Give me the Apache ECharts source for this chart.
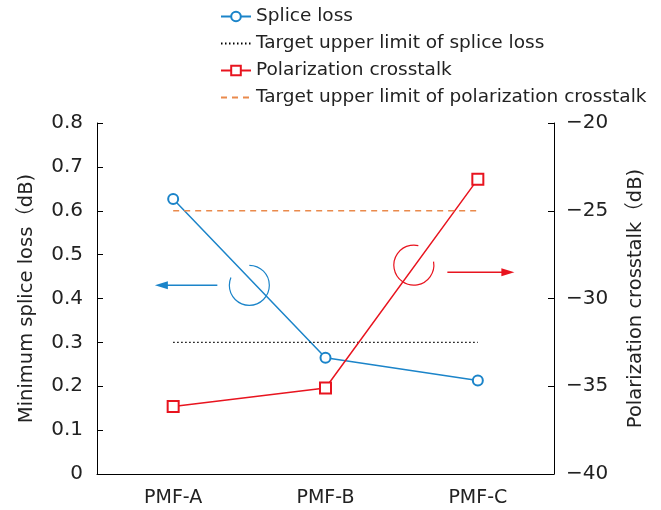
<!DOCTYPE html>
<html>
<head>
<meta charset="utf-8">
<script src="https://cdn.jsdelivr.net/npm/echarts@6/dist/echarts.min.js"></script>
<style>
  html, body { margin: 0; padding: 0; background: #fff; }
  #chart { width: 661px; height: 510px; }
</style>
</head>
<body>
<div id="chart"></div>
<script>
  // data
  var categories = ['PMF-A', 'PMF-B', 'PMF-C'];
  var spliceLoss = [0.627, 0.265, 0.213];
  var spliceTarget = [0.3, 0.3, 0.3];
  var crosstalk = [-36.15, -35.1, -23.2];
  var crosstalkTarget = [-25, -25, -25];

  var FONT = '"DejaVu Sans", "Noto Sans CJK JP", sans-serif';
  var BLUE = '#1b84c9';
  var RED = '#e8141f';
  var ORANGE = '#ea8a4c';
  var TXT = '#222';

  var chart = echarts.init(document.getElementById('chart'));

  var option = {
    animation: false,
    textStyle: { fontFamily: FONT },
    legend: {
      orient: 'vertical',
      left: 220,
      top: 7,
      padding: 0,
      itemWidth: 30,
      itemHeight: 12,
      itemGap: 8,
      textStyle: { fontSize: 18.5, lineHeight: 19, color: TXT, fontFamily: FONT },
      data: [
        'Splice loss',
        { name: 'Target upper limit of splice loss', itemStyle: { opacity: 0 } },
        'Polarization crosstalk',
        { name: 'Target upper limit of polarization crosstalk', itemStyle: { opacity: 0 } }
      ]
    },
    grid: { left: 97, right: 107, top: 123, bottom: 36 },
    xAxis: {
      type: 'category',
      data: categories,
      boundaryGap: true,
      axisLine: { lineStyle: { color: '#000', width: 1 } },
      axisTick: { inside: true, length: 6, lineStyle: { color: '#000' } },
      axisLabel: { fontSize: 19, color: TXT, margin: 15, fontFamily: FONT }
    },
    yAxis: [
      {
        type: 'value', min: 0, max: 0.8, interval: 0.1,
        name: 'Minimum splice loss（dB)',
        nameLocation: 'middle', nameGap: 60,
        nameTextStyle: { fontSize: 19.5, color: TXT, fontFamily: FONT },
        axisLine: { show: true, lineStyle: { color: '#000' } },
        axisTick: { show: true, inside: true, length: 6, lineStyle: { color: '#000' } },
        splitLine: { show: false },
        axisLabel: {
          fontSize: 20, color: TXT, margin: 14, fontFamily: FONT,
          formatter: function (v) { return v === 0 ? '0' : v.toFixed(1); }
        }
      },
      {
        type: 'value', min: -40, max: -20, interval: 5,
        name: 'Polarization crosstalk（dB)',
        nameLocation: 'middle', nameGap: 72, nameRotate: 90,
        nameTextStyle: { fontSize: 19.5, color: TXT, fontFamily: FONT },
        axisLine: { show: true, lineStyle: { color: '#000' } },
        axisTick: { show: true, inside: true, length: 6, lineStyle: { color: '#000' } },
        splitLine: { show: false },
        axisLabel: {
          fontSize: 20, color: TXT, margin: 12, fontFamily: FONT,
          formatter: function (v) { return String(v).replace('-', '−'); }
        }
      }
    ],
    series: [
      {
        name: 'Splice loss', type: 'line', yAxisIndex: 0,
        data: spliceLoss,
        symbol: 'emptyCircle', symbolSize: 10,
        lineStyle: { color: BLUE, width: 1.5 },
        itemStyle: { color: BLUE, borderWidth: 1.5 }
      },
      {
        name: 'Target upper limit of splice loss', type: 'line', yAxisIndex: 0,
        data: spliceTarget,
        symbol: 'none',
        lineStyle: { color: '#000', width: 1.2, type: [1.5, 2.5] },
        itemStyle: { color: '#000' }
      },
      {
        name: 'Polarization crosstalk', type: 'line', yAxisIndex: 1,
        data: crosstalk,
        symbol: 'emptyRect', symbolSize: 11,
        lineStyle: { color: RED, width: 1.5 },
        itemStyle: { color: RED, borderWidth: 1.5 }
      },
      {
        name: 'Target upper limit of polarization crosstalk', type: 'line', yAxisIndex: 1,
        data: crosstalkTarget,
        symbol: 'none',
        lineStyle: { color: ORANGE, width: 1.5, type: [6, 5] },
        itemStyle: { color: ORANGE }
      }
    ]
  };

  chart.setOption(option);

  // annotation arcs + arrows, anchored to the axes (fractional category index)
  var x0 = chart.convertToPixel({ xAxisIndex: 0 }, categories[0]);
  var x1 = chart.convertToPixel({ xAxisIndex: 0 }, categories[1]);
  function px(catIdx, val, axis) {
    return [x0 + (x1 - x0) * catIdx, chart.convertToPixel({ yAxisIndex: axis }, val)];
  }

  var lc = px(0.5, 0.43, 0);
  var rc = px(1.58, -28.1, 1);
  var la = px(0.29, 0.43, 0);
  var la2 = px(-0.12, 0.43, 0);
  var ra = px(1.8, -28.5, 1);
  var ra2 = px(2.24, -28.5, 1);

  chart.setOption({
    graphic: [
      {
        type: 'arc', shape: { cx: lc[0], cy: lc[1], r: 20, startAngle: -Math.PI / 2, endAngle: 203 * Math.PI / 180, clockwise: true },
        style: { stroke: BLUE, fill: 'none', lineWidth: 1.2 }
      },
      {
        type: 'line', shape: { x1: la[0], y1: la[1], x2: la2[0] + 10, y2: la2[1] },
        style: { stroke: BLUE, lineWidth: 1.5 }
      },
      {
        type: 'polygon', shape: { points: [[la2[0], la2[1]], [la2[0] + 13, la2[1] - 4], [la2[0] + 13, la2[1] + 4]] },
        style: { fill: BLUE }
      },
      {
        type: 'arc', shape: { cx: rc[0], cy: rc[1], r: 20, startAngle: -10 * Math.PI / 180, endAngle: 283 * Math.PI / 180, clockwise: true },
        style: { stroke: RED, fill: 'none', lineWidth: 1.2 }
      },
      {
        type: 'line', shape: { x1: ra[0], y1: ra[1], x2: ra2[0] - 10, y2: ra2[1] },
        style: { stroke: RED, lineWidth: 1.5 }
      },
      {
        type: 'polygon', shape: { points: [[ra2[0], ra2[1]], [ra2[0] - 13, ra2[1] - 4], [ra2[0] - 13, ra2[1] + 4]] },
        style: { fill: RED }
      }
    ]
  });
</script>
</body>
</html>
